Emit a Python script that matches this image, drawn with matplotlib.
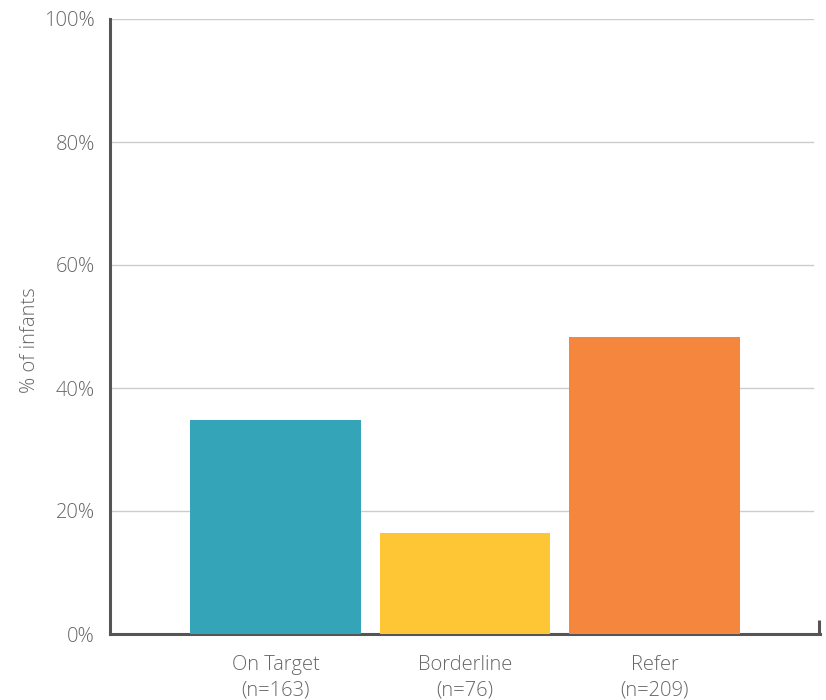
import matplotlib
matplotlib.use("Agg")
import matplotlib.pyplot as plt
from matplotlib.lines import Line2D

categories = ["On Target\n(n=163)", "Borderline\n(n=76)", "Refer\n(n=209)"]
values = [34.8, 16.4, 48.3]
colors = ["#34a4b8", "#fec535", "#f5863e"]
yticks = [0, 20, 40, 60, 80, 100]

plt.rcParams['font.family'] = ['Open Sans', 'DejaVu Sans']

fig = plt.figure(figsize=(8.26, 7.0), dpi=100)
ax = fig.add_axes([110/826, 1-634/700, 710/826, 615/700])

x = list(range(len(categories)))
ax.bar(x, values, width=0.9, color=colors, zorder=3)
ax.set_xlim(-0.873, 2.873)
ax.set_ylim(0, 100)
ax.set_yticks(yticks)
ax.set_yticklabels([f"{v}%" for v in yticks])
ax.set_xticks(x)
ax.set_xticklabels(categories, linespacing=1.4)

for v in yticks[1:]:
    ax.axhline(v, xmin=0, xmax=703/710, color="#cccccc", lw=1.0, zorder=1)

for s in ["top", "right"]:
    ax.spines[s].set_visible(False)
for s in ["left", "bottom"]:
    ax.spines[s].set_color("#555555")
    ax.spines[s].set_linewidth(2.2)

ax.add_line(Line2D([1.0 - 1/710, 1.0 - 1/710], [0, 14/615], transform=ax.transAxes,
                   color="#555555", lw=2.2, clip_on=False, solid_capstyle="butt"))

ax.tick_params(axis="both", length=0, labelsize=14.5, labelcolor="#666666", pad=11)
ax.tick_params(axis="x", pad=15)
for lab in ax.get_xticklabels() + ax.get_yticklabels():
    lab.set_fontweight("light")

ax.set_ylabel("% of infants", fontsize=14.5, color="#666666", fontweight="light")
ax.yaxis.set_label_coords(-0.099, 0.478)

fig.savefig("out.png", dpi=100)
